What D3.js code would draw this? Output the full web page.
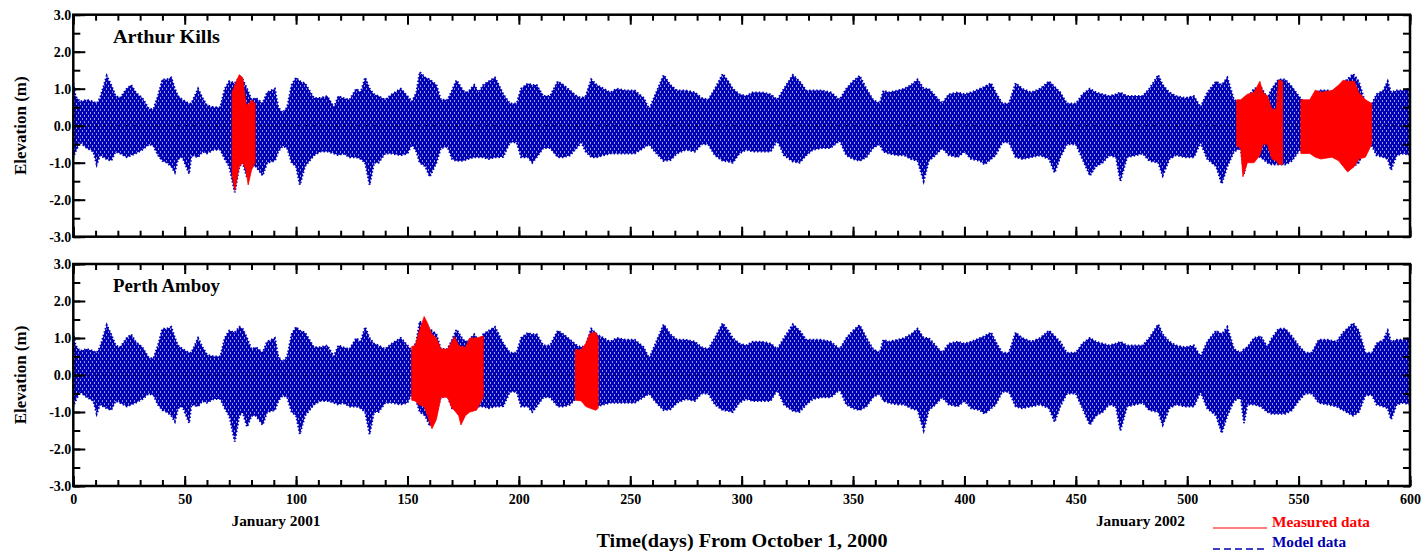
<!DOCTYPE html>
<html>
<head>
<meta charset="utf-8">
<script src="https://cdn.jsdelivr.net/npm/d3@7"></script>
<style>
  body { margin: 0; background: #fff; }
  text { font-family: "Liberation Serif", "Times New Roman", serif; font-weight: bold; }
</style>
</head>
<body>
<svg id="chart" width="1424" height="557"></svg>
<script>
// model envelope (same model run shown in both panels)
const modelDays = [0,1,3,6,9,10.5,12,15,17,19,21,24,26,28,31,34,36,38,40,42,44,45.6,47,49,52,53,56,58,60,63,66,68,70,72.5,74.5,76,78,80,82,85,87,90.5,92,94,96,98,100,101.7,104,106,108,111,114,117,119,121,
  124,127,129,131,133,135,137,140,143,147,150,152,154,155.5,158,160,163,165,168,170,172,175,177,180,182,184,186.5,189.3,191,193,196,199,201,204,206,208,211,214,217.5,220,223,226,228,230,232.5,235,238,241,244,248,252,256,258.5,261,265,268,271,275,279,
  282,285,288,291.5,294,296,299,302,305,309,313,316,319,323,326,329,332,336,340,344,347,350,353,356,359,362,363.6,366,370,373,376,379,381.7,384,387,390,393,397,400,403,407,409,412,414,417,420,423,426,430,434,438,440.5,
  443,446,450,453,456.3,459,462,465,468,470,473,477,480,483,487,489,492,495,499,503,506,509,513,515.5,518,521,524,525.5,527,530,533,536,538,541,544,547,550,553,556,559,563,567,570,574.5,577,580,583,585,588,590,591.5,594,597,600];
const modelHigh = [1.15,0.8,0.65,0.7,0.65,0.6,0.75,1.35,1.1,0.8,0.75,1.0,1.1,0.9,0.75,0.45,0.45,0.8,1.25,1.25,1.3,1.0,0.8,0.7,0.6,0.6,1.0,0.75,0.55,0.5,0.5,1.0,1.2,1.15,1.3,1.25,1.0,0.7,0.75,0.6,0.9,1.0,0.5,0.35,0.5,1.1,1.3,1.2,1.15,0.95,0.75,0.75,0.8,0.5,0.8,0.75,
  0.7,1.0,0.9,1.3,1.0,0.85,0.8,0.7,0.85,1.0,0.8,0.65,0.9,1.45,1.3,1.25,1.1,0.7,0.7,0.95,1.23,0.95,0.9,1.1,0.9,1.1,1.2,1.3,1.1,0.85,0.6,0.6,1.0,1.14,1.1,1.1,0.8,0.8,1.2,1.1,0.95,0.8,0.75,0.8,1.25,1.1,1.0,0.9,1.0,0.95,0.95,0.75,0.45,0.8,1.37,1.1,0.95,0.95,0.9,
  0.75,0.7,1.0,1.4,1.2,1.0,0.85,0.8,0.9,0.9,0.85,0.7,1.0,1.37,1.2,0.95,0.95,0.95,0.9,0.7,1.0,1.2,1.35,1.0,0.7,0.6,0.95,0.9,0.95,1.0,1.1,1.25,1.0,1.0,0.8,0.6,0.85,0.9,0.85,0.9,1.0,1.05,1.15,0.9,0.6,0.6,1.15,1.0,0.9,1.0,1.2,1.05,
  0.9,0.6,0.6,0.85,1.0,0.9,0.85,0.8,0.85,0.9,0.8,0.8,0.8,1.0,1.37,1.1,0.9,0.8,0.75,0.8,0.5,0.9,1.2,1.1,1.3,0.7,0.6,0.7,0.75,1.0,1.05,0.75,1.0,1.25,1.25,1.05,0.8,0.6,0.6,0.95,0.95,0.9,1.15,1.4,1.2,0.6,0.6,0.85,0.95,1.2,0.9,0.95,0.95,1.0];
const modelLow = [-0.85,-0.7,-0.45,-0.6,-0.7,-1.05,-0.8,-0.9,-0.95,-0.7,-0.75,-0.85,-0.8,-0.75,-0.65,-0.5,-0.55,-0.8,-0.95,-1.0,-1.1,-1.26,-0.9,-0.85,-1.3,-0.8,-0.85,-0.7,-0.75,-0.65,-0.65,-0.9,-1.1,-1.8,-1.1,-1.0,-1.4,-1.1,-1.1,-1.35,-1.0,-0.95,-0.7,-0.55,-0.6,-1.0,-1.1,-1.6,-1.1,-0.95,-0.8,-0.7,-0.7,-0.75,-0.8,-0.75,
  -0.85,-0.85,-0.9,-1.0,-1.6,-1.0,-1.0,-0.75,-0.75,-0.8,-0.75,-0.5,-0.7,-1.0,-1.1,-1.38,-1.0,-0.6,-0.57,-0.9,-0.95,-0.95,-0.9,-0.85,-0.85,-0.85,-0.9,-0.85,-0.85,-0.84,-0.45,-0.45,-0.85,-0.85,-1.0,-0.85,-0.6,-0.6,-0.85,-0.85,-0.8,-0.6,-0.45,-0.7,-0.85,-0.85,-0.8,-0.75,-0.75,-0.75,-0.75,-0.6,-0.5,-0.7,-0.95,-0.93,-0.75,-0.65,-0.7,
  -0.5,-0.5,-0.8,-0.95,-0.97,-1.0,-0.75,-0.65,-0.7,-0.7,-0.7,-0.4,-0.8,-0.97,-1.0,-0.8,-0.65,-0.6,-0.6,-0.4,-0.8,-0.9,-0.95,-0.85,-0.6,-0.5,-0.7,-0.75,-0.8,-0.8,-0.9,-0.95,-1.5,-0.95,-0.8,-0.6,-0.8,-0.85,-0.7,-0.9,-0.95,-1.05,-0.9,-0.8,-0.45,-0.45,-0.85,-0.9,-0.85,-0.8,-0.9,-1.27,
  -0.85,-0.5,-0.5,-0.9,-1.35,-1.1,-1.0,-0.8,-0.85,-1.5,-0.85,-0.8,-0.75,-0.95,-1.0,-1.35,-0.9,-0.8,-0.85,-0.85,-0.45,-0.9,-1.1,-1.57,-1.1,-0.7,-0.6,-1.3,-0.8,-0.8,-0.85,-1.0,-1.05,-1.05,-1.05,-0.95,-0.7,-0.5,-0.5,-0.75,-0.8,-0.85,-0.95,-1.1,-1.0,-0.55,-0.55,-0.8,-0.85,-0.9,-1.2,-0.8,-0.75,-0.8];

// measured data, null separates gaps in the record
const akMeasDays = [71.3,72.5,74.5,76,77.5,78.5,80,81.6,null,522.2,524,525,527,530,532.6,534,536,538,540,541,542.8,null,551,555,557.5,560,565,568,570,572,575,577,580,582.8];
const akMeasHigh = [0.9,1.1,1.38,1.3,0.6,0.55,0.7,0.6,null,0.7,0.7,0.75,0.85,0.9,1.2,0.9,0.8,0.45,0.45,1.23,1.2,null,0.7,0.7,0.96,0.9,0.95,1.1,1.23,1.2,1.2,0.9,0.7,0.6];
const akMeasLow = [-1.3,-1.75,-1.1,-1.0,-1.2,-1.6,-1.2,-1.0,null,-0.55,-0.6,-1.38,-1.0,-1.0,-0.8,-0.5,-0.5,-0.9,-0.95,-1.05,-1.05,null,-0.75,-0.75,-0.85,-0.9,-0.85,-0.95,-1.1,-1.25,-1.1,-0.9,-0.85,-0.5];

const paMeasDays = [151.9,153.5,155,157.5,159,161,163,165,168,170,171,173,174,176,178,181,184,null,225.3,228,230,232,234.5,235.6];
const paMeasHigh = [0.77,0.8,1.13,1.58,1.4,1.1,1.0,0.7,0.7,0.9,1.04,0.8,0.77,0.75,1.0,1.0,1.05,null,0.68,0.68,0.85,1.13,1.15,1.0];
const paMeasLow = [-0.68,-0.7,-0.8,-0.85,-1.1,-1.45,-1.2,-0.6,-0.6,-0.9,-0.95,-1.1,-1.35,-1.1,-1.0,-0.95,-0.6,null,-0.68,-0.7,-0.85,-0.9,-0.95,-0.9];

const stations = ["Arthur Kills", "Perth Amboy"];
const xMajor = d3.range(0, 601, 50);
const xMinor = d3.range(0, 601, 10);
const yMajor = [-3, -2, -1, 0, 1, 2, 3];
const yMinor = d3.range(-3, 3.01, 0.5);
const monthLabels = [{ day: 91, text: "January 2001" }, { day: 479, text: "January 2002" }];

const svg = d3.select("#chart");
const left = 73.3, right = 1410;
const panelTops = [14.7, 264], panelH = 222;

const x = d3.scaleLinear().domain([0, 600]).range([left, right]);

const toRows = (days, hi, lo) => days.map((d, i) => ({ day: d, hi: hi[i], lo: lo[i] }));
const modelRows = toRows(modelDays, modelHigh, modelLow);
const measRows = [toRows(akMeasDays, akMeasHigh, akMeasLow), toRows(paMeasDays, paMeasHigh, paMeasLow)];

// texture that looks like the dense dashed model trace
const defs = svg.append("defs");
const pat = defs.append("pattern").attr("id", "modelTex")
    .attr("patternUnits", "userSpaceOnUse").attr("width", 4).attr("height", 6);
pat.append("rect").attr("width", 4).attr("height", 6).attr("fill", "#0000b4");
pat.append("rect").attr("x", 0).attr("y", 1).attr("width", 1).attr("height", 2).attr("fill", "#fff").attr("opacity", 0.6);
pat.append("rect").attr("x", 2).attr("y", 4).attr("width", 1).attr("height", 2).attr("fill", "#fff").attr("opacity", 0.6);

stations.forEach((name, p) => {
    const top = panelTops[p], bottom = top + panelH;
    const y = d3.scaleLinear().domain([-3, 3]).range([bottom, top]);
    const g = svg.append("g");

    defs.append("clipPath").attr("id", "clip" + p)
        .append("rect").attr("x", left).attr("y", top).attr("width", right - left).attr("height", panelH);

    const area = d3.area()
        .defined(d => d.hi != null)
        .x(d => x(d.day))
        .y0(d => y(d.lo))
        .y1(d => y(d.hi));

    const plot = g.append("g").attr("clip-path", "url(#clip" + p + ")");

    plot.append("path")
        .datum(modelRows)
        .attr("d", area)
        .attr("fill", "url(#modelTex)")
        .attr("stroke", "#0000b8")
        .attr("stroke-width", 2)
        .attr("stroke-dasharray", "1.5,2");

    plot.append("line")
        .attr("x1", left).attr("x2", right)
        .attr("y1", y(0)).attr("y2", y(0))
        .attr("stroke", "#000").attr("stroke-width", 1.2)
        .attr("stroke-dasharray", "1.5,6");

    plot.append("path")
        .datum(measRows[p])
        .attr("d", area)
        .attr("fill", "#ff0000")
        .attr("stroke", "#ff0000")
        .attr("stroke-width", 0.8);

    // ticks (all inward)
    const tick = (axis, tr, size) => {
        const a = g.append("g").attr("transform", tr).call(axis.tickSize(size).tickFormat(""));
        a.select(".domain").remove();
        a.selectAll("line").attr("stroke", "#000").attr("stroke-width", 2);
        return a;
    };
    tick(d3.axisBottom(x).tickValues(xMinor), `translate(0,${bottom})`, -6);
    tick(d3.axisBottom(x).tickValues(xMajor), `translate(0,${bottom})`, -10);
    tick(d3.axisTop(x).tickValues(xMinor), `translate(0,${top})`, -6);
    tick(d3.axisTop(x).tickValues(xMajor), `translate(0,${top})`, -10);
    tick(d3.axisLeft(y).tickValues(yMinor), `translate(${left},0)`, -7);
    tick(d3.axisRight(y).tickValues(yMinor), `translate(${right},0)`, -7);

    const yAx = g.append("g").attr("transform", `translate(${left},0)`)
        .call(d3.axisLeft(y).tickValues(yMajor).tickSize(-12).tickPadding(2).tickFormat(d => d.toFixed(1)));
    yAx.select(".domain").remove();
    yAx.selectAll("line").attr("stroke", "#000").attr("stroke-width", 2);
    yAx.selectAll("text").attr("font-size", 14).attr("font-family", "Liberation Serif").attr("font-weight", "bold").attr("fill", "#000");

    if (p === 1) {
        const xAx = g.append("g").attr("transform", `translate(0,${bottom})`)
            .call(d3.axisBottom(x).tickValues(xMajor).tickSize(0).tickPadding(8));
        xAx.select(".domain").remove();
        xAx.selectAll("text").attr("font-size", 14).attr("font-family", "Liberation Serif").attr("font-weight", "bold").attr("fill", "#000");
    }

    // frame
    g.append("rect")
        .attr("x", left).attr("y", top).attr("width", right - left).attr("height", panelH)
        .attr("fill", "none").attr("stroke", "#000").attr("stroke-width", 2.5);

    g.append("text")
        .attr("x", 113).attr("y", top + 28)
        .attr("font-size", 18)
        .attr("textLength", 107).attr("lengthAdjust", "spacingAndGlyphs")
        .text(name);

    g.append("text")
        .attr("transform", `translate(26,${(top + bottom) / 2}) rotate(-90)`)
        .attr("text-anchor", "middle")
        .attr("font-size", 17)
        .text("Elevation (m)");
});

svg.selectAll(".month").data(monthLabels).enter().append("text")
    .attr("class", "month")
    .attr("x", d => x(d.day)).attr("y", 526)
    .attr("text-anchor", "middle")
    .attr("font-size", 14)
    .attr("textLength", 89).attr("lengthAdjust", "spacingAndGlyphs")
    .text(d => d.text);

svg.append("text")
    .attr("x", 742).attr("y", 547)
    .attr("text-anchor", "middle")
    .attr("font-size", 18)
    .attr("textLength", 291).attr("lengthAdjust", "spacingAndGlyphs")
    .text("Time(days) From October 1, 2000");

// legend
svg.append("line").attr("x1", 1213).attr("x2", 1267).attr("y1", 528).attr("y2", 528)
    .attr("stroke", "#ff0000").attr("stroke-width", 1.2);
svg.append("text").attr("x", 1272).attr("y", 527).attr("font-size", 14).attr("fill", "#ff0000")
    .attr("textLength", 98).attr("lengthAdjust", "spacingAndGlyphs").text("Measured data");
svg.append("line").attr("x1", 1213).attr("x2", 1267).attr("y1", 549).attr("y2", 549)
    .attr("stroke", "#0000b0").attr("stroke-width", 1.5).attr("stroke-dasharray", "7,4");
svg.append("text").attr("x", 1272).attr("y", 547).attr("font-size", 14).attr("fill", "#0000b0")
    .attr("textLength", 74).attr("lengthAdjust", "spacingAndGlyphs").text("Model data");
</script>
</body>
</html>
